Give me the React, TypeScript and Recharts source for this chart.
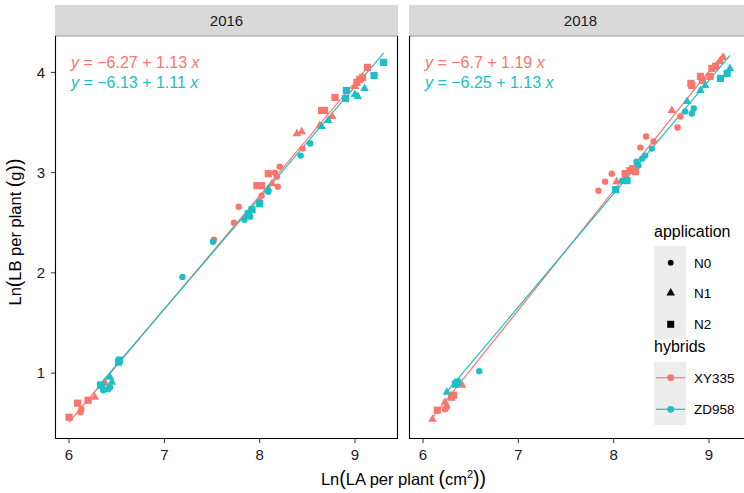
import { ScatterChart, Scatter, XAxis, YAxis, ReferenceLine } from "recharts"

const RED = "#F8766D"
const TEAL = "#1CBFC4"
const FONT = "'Liberation Sans', Arial, sans-serif"

const X_DOMAIN: [number, number] = [5.853, 9.451]
const Y_DOMAIN: [number, number] = [0.343, 4.363]
const xTicks = [6, 7, 8, 9]
const yTicks = [1, 2, 3, 4]

// 2016
const xy335N0_2016 = [
  { x: 7.78, y: 2.66 }, { x: 7.73, y: 2.5 }, { x: 7.52, y: 2.33 }, { x: 8.0, y: 2.71 },
  { x: 8.45, y: 3.24 }, { x: 8.21, y: 3.06 }, { x: 8.16, y: 3.0 }, { x: 8.18, y: 2.96 },
  { x: 8.19, y: 2.86 }, { x: 8.02, y: 2.77 }, { x: 6.13, y: 0.64 }, { x: 6.12, y: 0.61 },
]
const xy335N1_2016 = [
  { x: 8.39, y: 3.39 }, { x: 8.44, y: 3.41 }, { x: 8.76, y: 3.56 }, { x: 8.63, y: 3.47 },
  { x: 8.13, y: 2.89 }, { x: 6.27, y: 0.76 }, { x: 6.38, y: 0.9 }, { x: 9.0, y: 3.86 },
]
const xy335N2_2016 = [
  { x: 9.13, y: 4.05 }, { x: 9.02, y: 3.9 }, { x: 9.05, y: 3.93 }, { x: 9.08, y: 3.95 },
  { x: 8.79, y: 3.75 }, { x: 8.68, y: 3.62 }, { x: 8.65, y: 3.62 }, { x: 8.09, y: 2.99 },
  { x: 7.97, y: 2.87 }, { x: 8.02, y: 2.87 }, { x: 6.0, y: 0.56 }, { x: 6.09, y: 0.7 },
  { x: 6.2, y: 0.73 },
]
const zd958N0_2016 = [
  { x: 8.53, y: 3.29 }, { x: 8.43, y: 3.17 }, { x: 8.09, y: 2.81 }, { x: 7.84, y: 2.53 },
  { x: 7.9, y: 2.56 }, { x: 7.51, y: 2.31 }, { x: 7.19, y: 1.96 }, { x: 6.36, y: 0.83 },
  { x: 6.41, y: 0.84 }, { x: 6.43, y: 0.86 },
]
const zd958N1_2016 = [
  { x: 9.03, y: 3.76 }, { x: 9.1, y: 3.84 }, { x: 8.72, y: 3.52 }, { x: 8.65, y: 3.46 },
  { x: 6.43, y: 0.96 }, { x: 6.45, y: 0.91 }, { x: 8.09, y: 2.84 }, { x: 9.0, y: 3.78 },
]
const zd958N2_2016 = [
  { x: 9.3, y: 4.1 }, { x: 9.2, y: 3.97 }, { x: 8.91, y: 3.82 }, { x: 8.9, y: 3.74 },
  { x: 7.92, y: 2.63 }, { x: 7.88, y: 2.59 }, { x: 8.0, y: 2.69 }, { x: 6.53, y: 1.13 },
  { x: 6.52, y: 1.11 }, { x: 6.34, y: 0.88 }, { x: 6.33, y: 0.88 },
]

// 2018
const xy335N0_2018 = [
  { x: 8.7, y: 3.56 }, { x: 8.67, y: 3.45 }, { x: 8.34, y: 3.36 }, { x: 8.42, y: 3.31 },
  { x: 8.28, y: 3.25 }, { x: 7.98, y: 2.99 }, { x: 7.91, y: 2.91 }, { x: 7.84, y: 2.82 },
  { x: 6.23, y: 0.64 }, { x: 6.25, y: 0.66 },
]
const xy335N1_2018 = [
  { x: 9.12, y: 4.11 }, { x: 9.15, y: 4.15 }, { x: 8.61, y: 3.62 }, { x: 8.03, y: 2.91 },
  { x: 6.41, y: 0.88 }, { x: 6.23, y: 0.71 }, { x: 6.1, y: 0.54 }, { x: 9.05, y: 4.05 },
]
const xy335N2_2018 = [
  { x: 9.07, y: 4.06 }, { x: 9.03, y: 4.04 }, { x: 9.01, y: 3.96 }, { x: 8.91, y: 3.96 },
  { x: 8.93, y: 3.92 }, { x: 8.81, y: 3.89 }, { x: 8.82, y: 3.87 }, { x: 8.12, y: 2.99 },
  { x: 8.17, y: 3.02 }, { x: 8.2, y: 3.04 }, { x: 8.23, y: 3.01 }, { x: 6.3, y: 0.76 },
  { x: 6.32, y: 0.78 }, { x: 6.15, y: 0.63 },
]
const zd958N0_2018 = [
  { x: 8.75, y: 3.61 }, { x: 8.82, y: 3.59 }, { x: 8.84, y: 3.64 }, { x: 8.4, y: 3.24 },
  { x: 8.33, y: 3.17 }, { x: 8.3, y: 3.14 }, { x: 8.24, y: 3.11 }, { x: 8.26, y: 3.07 },
  { x: 8.09, y: 2.92 }, { x: 6.59, y: 1.02 },
]
const zd958N1_2018 = [
  { x: 9.22, y: 4.04 }, { x: 8.96, y: 3.87 }, { x: 8.91, y: 3.82 }, { x: 8.77, y: 3.71 },
  { x: 6.37, y: 0.91 }, { x: 6.25, y: 0.81 },
]
const zd958N2_2018 = [
  { x: 9.19, y: 3.99 }, { x: 9.12, y: 3.94 }, { x: 8.02, y: 2.83 }, { x: 8.14, y: 2.92 },
  { x: 6.34, y: 0.89 }, { x: 6.36, y: 0.91 },
]

// regression coefficients [intercept, slope]
const fitXY335_2016 = [-6.27, 1.13]
const fitZD958_2016 = [-6.13, 1.11]
const fitXY335_2018 = [-6.7, 1.19]
const fitZD958_2018 = [-6.25, 1.13]

type Pt = { x: number; y: number }

function mark(kind: string, color: string) {
  return (props: any) => {
    const { cx, cy } = props
    if (cx == null || cy == null) return <g />
    if (kind === "N0") return <circle cx={cx} cy={cy} r={3.2} fill={color} />
    if (kind === "N2")
      return <rect x={cx - 3.6} y={cy - 3.6} width={7.2} height={7.2} fill={color} />
    return (
      <polygon
        points={`${cx},${cy - 4.9} ${cx + 4.3},${cy + 2.6} ${cx - 4.3},${cy + 2.6}`}
        fill={color}
      />
    )
  }
}

function segment(pts: Pt[][], fit: number[]) {
  const xs = pts.flat().map((p) => p.x)
  const x0 = Math.min(...xs)
  const x1 = Math.max(...xs)
  return [
    { x: x0, y: fit[0] + fit[1] * x0 },
    { x: x1, y: fit[0] + fit[1] * x1 },
  ]
}

const tickStyle = { fill: "#1a1a1a", fontSize: 15, fontFamily: FONT }

function Panel({ red, teal, fitRed, fitTeal, showY, left }: any) {
  return (
    <ScatterChart
      width={showY ? 400 : 352}
      height={493}
      margin={{ top: 36, right: showY ? 2 : 0, bottom: 24, left: left }}
    >
      <XAxis
        type="number"
        dataKey="x"
        domain={X_DOMAIN}
        ticks={xTicks}
        allowDataOverflow
        height={30}
        tickSize={4}
        tickMargin={6}
        axisLine={false}
        tickLine={{ stroke: "#333" }}
        tick={tickStyle}
      />
      <YAxis
        type="number"
        dataKey="y"
        domain={Y_DOMAIN}
        ticks={yTicks}
        allowDataOverflow
        width={showY ? 55 : 0}
        hide={!showY}
        tickSize={4}
        tickMargin={6}
        axisLine={false}
        tickLine={{ stroke: "#333" }}
        tick={tickStyle}
      />
      {["N0", "N1", "N2"].map((k, i) => (
        <Scatter key={"r" + k} data={red[i]} shape={mark(k, RED)} isAnimationActive={false} />
      ))}
      {["N0", "N1", "N2"].map((k, i) => (
        <Scatter key={"t" + k} data={teal[i]} shape={mark(k, TEAL)} isAnimationActive={false} />
      ))}
      <ReferenceLine segment={segment(red, fitRed)} stroke={RED} strokeWidth={1.2} ifOverflow="visible" />
      <ReferenceLine segment={segment(teal, fitTeal)} stroke={TEAL} strokeWidth={1.2} ifOverflow="visible" />
    </ScatterChart>
  )
}

function Equation({ x, y, color, a, b }: any) {
  return (
    <text x={x} y={y} fill={color} fontSize={16} fontFamily={FONT}>
      <tspan fontStyle="italic">y</tspan>
      {` = \u2212${a} + ${b} `}
      <tspan fontStyle="italic">x</tspan>
    </text>
  )
}

function Overlay() {
  const panels = [
    { x0: 55, x1: 398, label: "2016" },
    { x0: 409, x1: 752, label: "2018" },
  ]
  return (
    <svg
      width={744}
      height={493}
      style={{ position: "absolute", left: 0, top: 0, pointerEvents: "none" }}
      fontFamily={FONT}
    >
      {panels.map((p) => (
        <g key={p.label}>
          <rect x={p.x0} y={5} width={p.x1 - p.x0} height={31} fill="#D9D9D9" />
          <text x={(p.x0 + p.x1) / 2} y={26} textAnchor="middle" fontSize={15} fill="#1a1a1a">
            {p.label}
          </text>
          <line x1={p.x0} y1={36} x2={p.x1} y2={36} stroke="#999" strokeWidth={1} />
          <path
            d={`M${p.x0 + 0.5},36 V${438.5} H${p.x1 - 0.5} V36`}
            fill="none"
            stroke="#000"
            strokeWidth={1.1}
          />
        </g>
      ))}
      <Equation x={71} y={67.5} color={RED} a="6.27" b="1.13" />
      <Equation x={71} y={87.5} color={TEAL} a="6.13" b="1.11" />
      <Equation x={425} y={67.5} color={RED} a="6.7" b="1.19" />
      <Equation x={425} y={87.5} color={TEAL} a="6.25" b="1.13" />

      <text transform="translate(21,232) rotate(-90)" textAnchor="middle" fontSize={16.5} fill="#000">
        Ln<tspan fontSize={19.5}>(</tspan>LB per plant <tspan fontSize={19.5}>(</tspan>g
        <tspan fontSize={19.5}>)</tspan>
        <tspan fontSize={19.5}>)</tspan>
      </text>
      <text x={403.5} y={485} textAnchor="middle" fontSize={16.5} fill="#000">
        Ln<tspan fontSize={19.5}>(</tspan>LA per plant <tspan fontSize={19.5}>(</tspan>cm
        <tspan fontSize={11} dy={-7}>2</tspan>
        <tspan fontSize={19.5} dy={7}>)</tspan>
        <tspan fontSize={19.5}>)</tspan>
      </text>

      {/* legend */}
      <text x={654} y={237} fontSize={16} fill="#000">application</text>
      <rect x={654} y={245.7} width={32} height={93.6} fill="#ECEDEC" />
      <circle cx={670.7} cy={262.7} r={2.9} fill="#000" />
      <polygon points="670.7,288 675,295.5 666.4,295.5" fill="#000" />
      <rect x={667.2} y={320.8} width={7} height={7} fill="#000" />
      <text x={694} y={267.5} fontSize={13.5} fill="#000">N0</text>
      <text x={694} y={297.5} fontSize={13.5} fill="#000">N1</text>
      <text x={694} y={329} fontSize={13.5} fill="#000">N2</text>
      <text x={654} y={352} fontSize={16} fill="#000">hybrids</text>
      <rect x={654} y={361.7} width={32} height={63.3} fill="#ECEDEC" />
      <line x1={656} y1={377.7} x2={685} y2={377.7} stroke={RED} strokeWidth={1.2} />
      <circle cx={670.7} cy={377.7} r={3.4} fill={RED} />
      <line x1={656} y1={409.3} x2={685} y2={409.3} stroke={TEAL} strokeWidth={1.2} />
      <circle cx={670.7} cy={409.3} r={3.4} fill={TEAL} />
      <text x={694} y={382.5} fontSize={13.5} fill="#000">XY335</text>
      <text x={694} y={414} fontSize={13.5} fill="#000">ZD958</text>
    </svg>
  )
}

export default function App() {
  return (
    <div
      style={{
        position: "absolute",
        left: 0,
        top: 0,
        width: 744,
        height: 493,
        overflow: "hidden",
        background: "#fff",
      }}
    >
      <div style={{ position: "absolute", left: 0, top: 0 }}>
        <Panel
          red={[xy335N0_2016, xy335N1_2016, xy335N2_2016]}
          teal={[zd958N0_2016, zd958N1_2016, zd958N2_2016]}
          fitRed={fitXY335_2016}
          fitTeal={fitZD958_2016}
          showY
          left={0}
        />
      </div>
      <div style={{ position: "absolute", left: 400, top: 0 }}>
        <Panel
          red={[xy335N0_2018, xy335N1_2018, xy335N2_2018]}
          teal={[zd958N0_2018, zd958N1_2018, zd958N2_2018]}
          fitRed={fitXY335_2018}
          fitTeal={fitZD958_2018}
          showY={false}
          left={9}
        />
      </div>
      <Overlay />
    </div>
  )
}
